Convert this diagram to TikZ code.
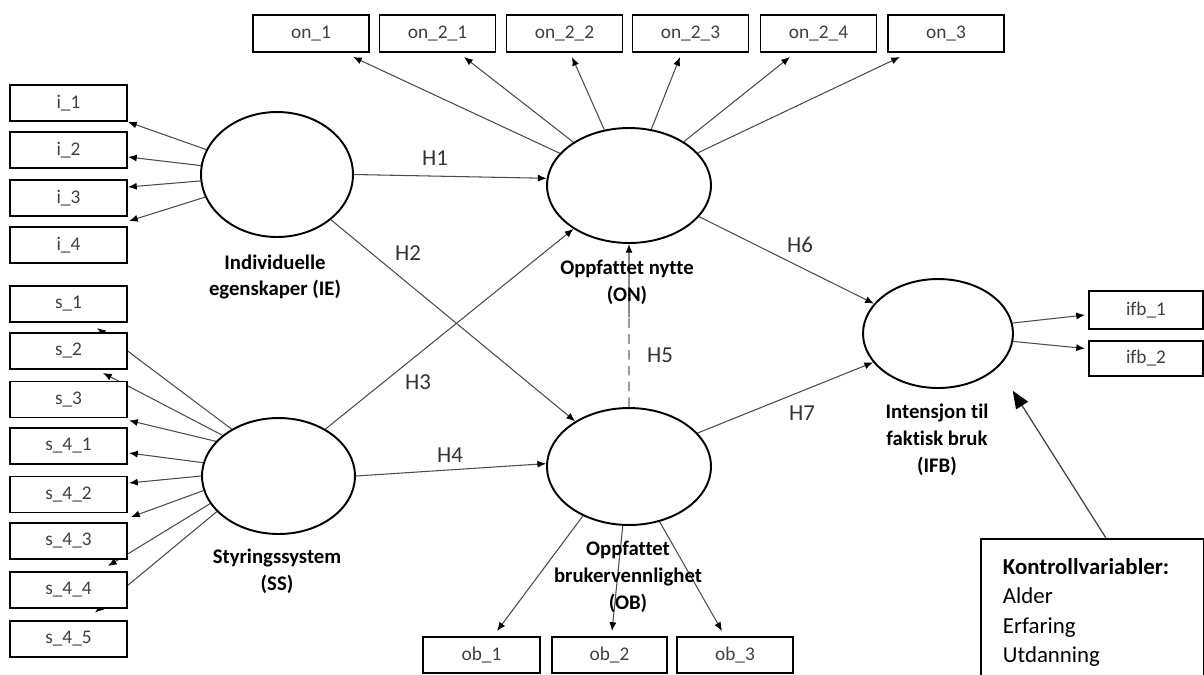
\documentclass[tikz,border=0pt]{standalone}
\usepackage{fontspec}
\setmainfont{Carlito}[Ligatures=CommonOff]
\usepackage{tikz}
\usetikzlibrary{arrows.meta,shapes.geometric,backgrounds,calc}

\begin{document}
\begin{tikzpicture}[x=0.02cm,y=-0.02cm,
        box/.style={draw,line width=1.1pt,fill=white,inner sep=0pt,minimum width=2.34cm,minimum height=0.72cm,
            text=black!75,font=\fontsize{11}{13}\selectfont},
        topbox/.style={box,minimum width=2.32cm,minimum height=0.74cm},
        latent/.style={draw,ellipse,line width=1.1pt,fill=white,inner sep=0pt},
        lbl/.style={align=center,font=\fontsize{11.8}{15.3}\selectfont\bfseries},
        hyp/.style={text=black!80,font=\fontsize{13}{15}\selectfont},
        arr/.style={draw=black!70,line width=0.6pt,-{Latex[length=5pt,width=4pt,black]}},
        dashline/.style={draw=black!60,line width=0.7pt,dash pattern=on 5.5pt off 3.5pt}
    ]
        \useasboundingbox (0,0) rectangle (1204,674);
        \clip (0,0) rectangle (1204,674);

        \node[latent,minimum width=3.04cm,minimum height=2.5cm] (IE) at (277,174.5) {};
        \node[latent,minimum width=3.06cm,minimum height=2.32cm] (SS) at (278.5,476) {};
        \node[latent,minimum width=3.28cm,minimum height=2.3cm] (ON) at (629,185.5) {};
        \node[latent,minimum width=3.28cm,minimum height=2.34cm] (OB) at (629,466.5) {};
        \node[latent,minimum width=3.0cm,minimum height=2.18cm] (IFB) at (938,333.5) {};

        \node[lbl] (IElbl) at (275,277) {Individuelle\\egenskaper (IE)};
        \node[lbl] (SSlbl) at (277,571) {Styringssystem\\(SS)};
        \node[lbl] (ONlbl) at (627,282) {Oppfattet nytte\\(ON)};
        \node[lbl] (OBlbl) at (628,577) {Oppfattet\\brukervennlighet\\(OB)};
        \node[lbl] (IFBlbl) at (937,440) {Intensjon til\\faktisk bruk\\(IFB)};

        \node[box] (i1) at (68.5,103) {i\_1};
        \node[box] (i2) at (68.5,150) {i\_2};
        \node[box] (i3) at (68.5,198) {i\_3};
        \node[box] (i4) at (68.5,245) {i\_4};

        \node[box] (s1) at (68.5,304) {s\_1};
        \node[box] (s2) at (68.5,351) {s\_2};
        \node[box] (s3) at (68.5,399.5) {s\_3};
        \node[box] (s41) at (68.5,446) {s\_4\_1};
        \node[box] (s42) at (68.5,494.5) {s\_4\_2};
        \node[box] (s43) at (68.5,541) {s\_4\_3};
        \node[box] (s44) at (68.5,590) {s\_4\_4};
        \node[box] (s45) at (68.5,639) {s\_4\_5};

        \node[topbox] (on1) at (311,33.5) {on\_1};
        \node[topbox] (on21) at (437.5,33.5) {on\_2\_1};
        \node[topbox] (on22) at (564.5,33.5) {on\_2\_2};
        \node[topbox] (on23) at (690.5,33.5) {on\_2\_3};
        \node[topbox] (on24) at (818.5,33.5) {on\_2\_4};
        \node[topbox] (on3) at (946,33.5) {on\_3};

        \node[box] (ob1) at (481.5,655) {ob\_1};
        \node[box,minimum width=2.3cm] (ob2) at (609.5,655) {ob\_2};
        \node[box,minimum width=2.32cm] (ob3) at (735,655) {ob\_3};

        \node[box,minimum width=2.28cm,minimum height=0.76cm] (ifb1) at (1146,310) {ifb\_1};
        \node[box,minimum width=2.28cm,minimum height=0.7cm] (ifb2) at (1146,358.5) {ifb\_2};

        \node[draw,line width=1.1pt,anchor=north west,align=left,text width=3.58cm,inner xsep=0.44cm,inner ysep=0.39cm,
            font=\fontsize{13}{16.7}\selectfont] (kv) at (980,538)
            {\textbf{Kontrollvariabler:}\\Alder\\Erfaring\\Utdanning};

        \node[hyp] (h1) at (435,158) {H1};
        \node[hyp] (h2) at (408,253) {H2};
        \node[hyp] (h3) at (418,382) {H3};
        \node[hyp] (h4) at (450,455) {H4};
        \node[hyp] (h5) at (660,355) {H5};
        \node[hyp] (h6) at (800,245) {H6};
        \node[hyp] (h7) at (802,413) {H7};

        \begin{scope}[on background layer]
        \fill[white] (0,0) rectangle (1204,674);

        \draw[arr] (IE) -- (i1.south east);
        \draw[arr] (IE) -- ([shift={(0,7)}]i2.east);
        \draw[arr] (IE) -- ([shift={(0,-11)}]i3.east);
        \draw[arr] (IE) -- ([shift={(1,-5)}]i4.north east);

        \draw[arr] (SS.135) -- ([shift={(28.5,5)}]s1.south);
        \draw[arr] (SS.144) -- ([shift={(34.5,3)}]s2.south);
        \draw[arr] (SS.151) -- ([shift={(1,2)}]s3.south east);
        \draw[arr] (SS.170) -- ([shift={(1,7)}]s41.east);
        \draw[arr] (SS.180) -- ([shift={(1,-11.5)}]s42.east);
        \draw[arr] (SS.191) -- ([shift={(3,-5)}]s43.north east);
        \draw[arr] (SS.202) -- ([shift={(39.5,-5)}]s44.north);
        \draw[arr] (SS.210) -- ([shift={(26.5,-7.5)}]s45.north);

        \draw[arr] (ON) -- ([shift={(42,4)}]on1.south);
        \draw[arr] (ON) -- ([shift={(26.5,4)}]on21.south);
        \draw[arr] (ON) -- ([shift={(7.5,4)}]on22.south);
        \draw[arr] (ON) -- ([shift={(-10.5,4)}]on23.south);
        \draw[arr] (ON) -- ([shift={(-28.5,4)}]on24.south);
        \draw[arr] (ON) -- ([shift={(-46,4)}]on3.south);

        \draw[arr] (OB.227) -- ([shift={(15.5,-5)}]ob1.north);
        \draw[arr] (OB.264) -- ([shift={(2.5,-5)}]ob2.north);
        \draw[arr] (OB.299) -- ([shift={(-13,-5)}]ob3.north);

        \draw[arr] (IFB.8) -- ([shift={(-3,5)}]ifb1.west);
        \draw[arr] (IFB.354) -- ([shift={(-3,-10)}]ifb2.west);

        \draw[arr] (IE.east) -- (ON.175);
        \draw[arr] (IE.320) -- (OB.140);
        \draw[arr] (SS.45) -- (ON.218);
        \draw[arr] (SS.east) -- (OB.178);
        \draw[dashline] (OB.north) -- ($(OB.north)!0.55!(ON.south)$);
        \draw[arr] ($(OB.north)!0.55!(ON.south)$) -- (ON.south);
        \draw[arr] (ON.336) -- (IFB.155);
        \draw[arr] (OB.26) -- (IFB.204);

        \draw[draw=black!75,line width=0.7pt,-{Triangle[length=10pt,width=8pt,black]}] ([shift={(13.5,0)}]kv.north) -- ([shift={(21,18)}]IFB.south east);
        \end{scope}

    \end{tikzpicture}
\end{document}
